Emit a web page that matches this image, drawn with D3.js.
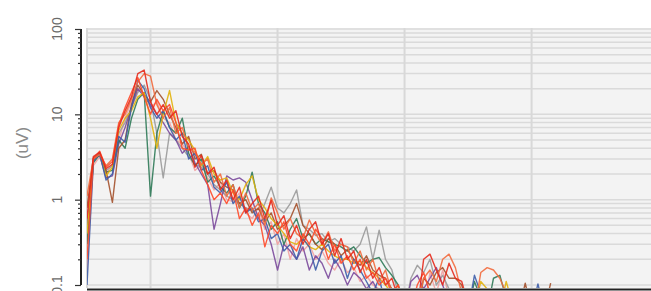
<!DOCTYPE html>
<html><head><meta charset="utf-8">
<script src="https://cdn.jsdelivr.net/npm/d3@7"></script>
<style>html,body{margin:0;padding:0;background:#fff;overflow:hidden}</style>
</head><body><svg id="c" width="651" height="291"></svg>
<script>
// x positions: sample index * 0.1 (unitless sweep units)
const xStep = 0.1;
const yTicks = [0.1, 1, 10, 100];
const yTickLabels = ["0.1", "1", "10", "100"];
const xGrid = [1, 3, 5, 7];
const yTitle = "(uV)";

const blue = [0.1,2.8,3.5,1.7,2.0,5.5,4.7,12,25,20,12,9,11,7,5,6,3,3.5,2.2,2.5,1.4,1.2,1.6,0.9,1.1,0.7,0.8,0.55,0.6,0.35,0.4,0.25,0.3,0.2,0.35,0.28,0.15,0.25,0.3,0.18,0.22,0.12,0.2,0.15,0.11,0.08,0.12,0.06,0.05,0.05,
  0.05,0.05,0.05,0.05,0.05,0.05,0.05,0.05,0.05,0.05,0.05,0.13,0.08,0.05,0.05,0.05,0.05,0.05,0.05,0.05,0.05,0.103,0.05,0.05];
const red = [0.6,3.2,3.6,2.3,2.6,7,11,16,30,33,14,10,13,9,11,5.5,4.5,2.4,3.3,2.0,2.4,1.3,1.7,1.0,1.4,0.7,0.9,1.1,0.6,0.98,0.5,0.65,0.35,0.5,0.3,0.45,0.55,0.3,0.4,0.22,0.35,0.2,0.25,0.14,0.2,0.12,0.16,0.1,0.12,0.07,
  0.05,0.05,0.05,0.2,0.23,0.15,0.1,0.18,0.12,0.11,0.06,0.05,0.05,0.05,0.05,0.05,0.05,0.05,0.05,0.05,0.05,0.05,0.05,0.05];
const orange = [1.1,3.0,3.4,2.5,3.0,8,10,15,24,30,28,13,9,12,6,7,4,3.6,2.6,3.0,1.6,2.0,1.1,1.5,0.8,1.2,0.75,0.9,0.5,1.05,0.7,0.45,0.6,0.4,0.35,0.58,0.4,0.3,0.42,0.25,0.3,0.28,0.18,0.25,0.15,0.2,0.11,0.15,0.08,0.1,
  0.05,0.05,0.05,0.12,0.15,0.11,0.2,0.23,0.16,0.08,0.05,0.05,0.14,0.16,0.15,0.12,0.08,0.05,0.05,0.05,0.05,0.05,0.05,0.05];
const yellow = [0.4,2.9,3.5,1.9,2.4,6.5,9,11,16,18,9,4.0,10,19,8,6,5,3.8,2.5,3.2,2.0,1.7,1.8,1.2,1.0,1.5,1.9,1.0,0.8,0.6,0.5,0.4,0.32,0.3,0.35,0.28,0.26,0.3,0.25,0.22,0.2,0.2,0.18,0.19,0.16,0.14,0.12,0.1,0.08,0.05,
  0.05,0.05,0.05,0.05,0.05,0.05,0.05,0.05,0.05,0.05,0.05,0.05,0.11,0.09,0.05,0.05,0.11,0.06,0.05,0.05,0.05,0.05,0.05,0.05];
const green = [0.3,2.7,3.4,2.1,2.2,5,4.0,9,15,18,1.1,6,11,7,6,9,3.5,2.5,3.0,1.6,1.9,1.4,1.2,1.5,0.8,1.1,2.1,0.9,0.7,0.45,0.55,0.3,0.45,0.6,0.35,0.4,0.3,0.35,0.32,0.3,0.28,0.25,0.28,0.22,0.18,0.2,0.21,0.16,0.13,0.1,
  0.06,0.05,0.05,0.05,0.05,0.05,0.05,0.05,0.05,0.05,0.05,0.11,0.07,0.05,0.12,0.13,0.07,0.05,0.05,0.05,0.05,0.05,0.05,0.05];
const purple = [0.5,3.0,3.3,1.8,1.9,4.5,7,12,20,16,13,10,8,6,5,3.5,4.2,2.7,2.0,1.5,0.45,0.9,1.9,1.7,1.8,1.6,1.0,0.6,0.5,0.3,0.15,0.3,0.25,0.2,0.28,0.15,0.22,0.18,0.12,0.2,0.15,0.1,0.14,0.12,0.09,0.11,0.08,0.05,0.05,0.05,
  0.05,0.11,0.13,0.09,0.12,0.16,0.1,0.06,0.05,0.05,0.05,0.05,0.05,0.05,0.05,0.05,0.05,0.05,0.05,0.05,0.05,0.05,0.05,0.05];
const brown = [0.8,3.1,3.5,2.2,0.93,4,5,13,22,17,14,19,15,10,7,4.5,5.5,3.0,3.4,2.0,2.2,1.6,1.4,1.3,0.9,1.0,0.7,0.8,0.55,0.7,0.45,0.5,0.6,0.9,0.5,0.4,0.3,0.26,0.35,0.3,0.22,0.26,0.2,0.17,0.22,0.15,0.13,0.12,0.09,0.07,
  0.05,0.05,0.05,0.12,0.1,0.14,0.16,0.12,0.12,0.1,0.05,0.05,0.05,0.05,0.05,0.05,0.05,0.05,0.05,0.105,0.05,0.05,0.05,0.105];
const grey = [0.3,2.8,3.4,2.2,2.5,6,8,12,18,22,15,6,1.8,6,5,4,3.2,2.6,2.4,2.0,1.5,1.3,1.1,1.0,0.9,0.8,0.75,0.6,0.9,1.4,0.8,0.7,0.9,1.3,0.5,0.45,0.38,0.4,0.32,0.35,0.3,0.28,0.25,0.3,0.48,0.2,0.44,0.2,0.15,0.08,
  0.05,0.12,0.17,0.14,0.2,0.1,0.13,0.09,0.05,0.05,0.05,0.05,0.05,0.05,0.05,0.05,0.05,0.05,0.05,0.05,0.05,0.05,0.05,0.05];
const pink = [0.15,2.5,3.2,2.0,2.6,5,9,14,20,17,12,14,9,8,5,4.5,3.5,2.2,2.6,1.8,1.3,1.6,1.0,0.95,1.2,0.7,0.6,0.8,0.45,0.55,0.3,0.4,0.2,0.35,0.25,0.3,0.2,0.25,0.18,0.15,0.2,0.14,0.16,0.11,0.13,0.1,0.09,0.08,0.05,0.05,
  0.05,0.05,0.05,0.05,0.14,0.08,0.15,0.07,0.05,0.05,0.05,0.05,0.05,0.05,0.05,0.05,0.05,0.05,0.05,0.05,0.05,0.05,0.05,0.05];
const red2 = [0.2,3.0,3.7,2.4,2.8,7.5,12,18,27,16,10,15,11,13,8,4,3.8,4.0,2.2,1.5,1.0,1.2,0.9,1.3,0.6,0.8,0.5,0.7,0.28,0.5,0.4,0.55,0.3,0.25,0.4,0.3,0.45,0.35,0.2,0.3,0.18,0.22,0.15,0.2,0.12,0.14,0.1,0.12,0.08,0.1,
  0.05,0.05,0.1,0.14,0.08,0.05,0.05,0.05,0.05,0.05,0.05,0.05,0.05,0.05,0.05,0.05,0.05,0.05,0.05,0.05,0.05,0.05,0.05,0.05];

const series = [pink, grey, purple, green, brown, yellow, blue, orange, red2, red];
const seriesColors = ["#f3a1a1", "#9a9a9a", "#7b4a9c", "#2f7a58", "#a4512c", "#e2b30c", "#3d5da8", "#f26a3d", "#ff4a2a", "#e62a1c"];

const svg = d3.select("#c");
const plotL = 87, plotR = 651, plotT = 28, plotB = 288;
const x = d3.scaleLinear().domain([0, 8.88]).range([plotL, plotR]);
const y = d3.scaleLog().domain([0.1, 100]).range([285, 29]);

svg.append("rect").attr("x", plotL).attr("y", plotT).attr("width", plotR - plotL).attr("height", plotB - plotT).attr("fill", "#f3f3f3");

// horizontal grid (major + minor)
const minor = [];
for (let d = 0.1; d < 100; d *= 10) for (let k = 1; k <= 9; k++) minor.push(+(d * k).toPrecision(3));
minor.push(100);
svg.append("g").selectAll("line").data(minor).join("line")
  .attr("x1", plotL).attr("x2", plotR)
  .attr("y1", d => y(d)).attr("y2", d => y(d))
  .attr("stroke", "#dadada").attr("stroke-width", 1.5);
// vertical grid
svg.append("g").selectAll("line").data([0].concat(xGrid)).join("line")
  .attr("x1", d => x(d)).attr("x2", d => x(d))
  .attr("y1", plotT).attr("y2", plotB)
  .attr("stroke", "#d8d8d8").attr("stroke-width", 2);

svg.append("clipPath").attr("id", "clip").append("rect")
  .attr("x", plotL).attr("y", plotT).attr("width", plotR - plotL).attr("height", plotB - plotT);

const line = d3.line().x((d, i) => x(i * xStep)).y(d => y(d));
svg.append("g").attr("clip-path", "url(#clip)").selectAll("path").data(series).join("path")
  .attr("d", line).attr("fill", "none")
  .attr("stroke", (d, i) => seriesColors[i]).attr("stroke-width", 1.4)
  .attr("stroke-opacity", 0.9).attr("stroke-linejoin", "round");

// y axis
const yAxis = d3.axisLeft(y).tickValues(minor).tickSize(3).tickFormat("");
const ga = svg.append("g").attr("transform", "translate(81,0)").call(yAxis);
ga.select(".domain").attr("stroke", "#222").attr("stroke-width", 2).attr("d", `M0,${y(100)}V${y(0.1)}`);
ga.selectAll(".tick line").attr("stroke", "#333").attr("stroke-width", 1.2)
  .attr("x2", d => yTicks.includes(d) ? -6 : -3);
svg.append("g").selectAll("text").data(yTicks).join("text")
  .attr("transform", d => `translate(62,${y(d)}) rotate(-90)`)
  .attr("text-anchor", "middle")
  .attr("font-family", "Liberation Sans, Arial, sans-serif").attr("font-size", 14)
  .attr("fill", "#6a6a6a")
  .text((d, i) => yTickLabels[i]);
svg.append("text").attr("transform", `translate(28,143) rotate(-90)`)
  .attr("text-anchor", "middle")
  .attr("font-family", "Liberation Sans, Arial, sans-serif").attr("font-size", 17)
  .attr("fill", "#8a8a8a").text(yTitle);

// x axis line
svg.append("line").attr("x1", plotL).attr("x2", plotR).attr("y1", 289.5).attr("y2", 289.5)
  .attr("stroke", "#222").attr("stroke-width", 2);
</script></body></html>
